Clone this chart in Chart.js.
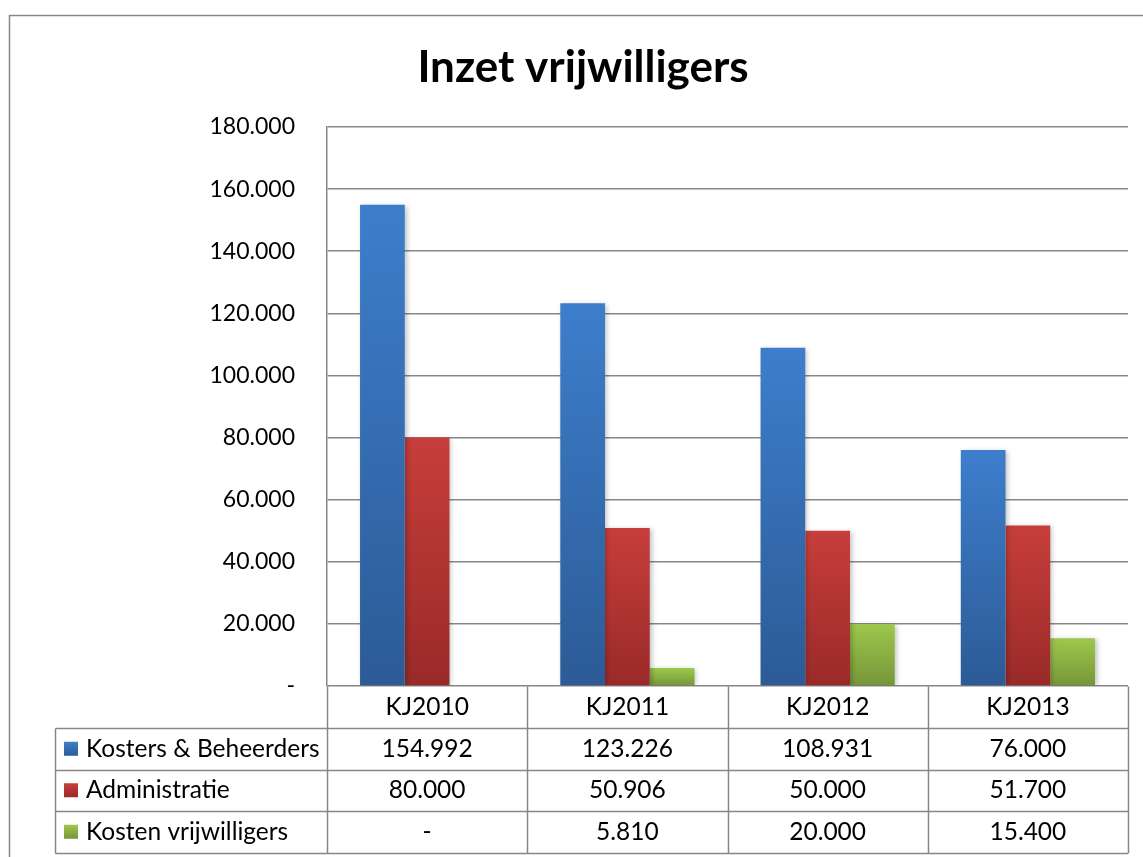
<!DOCTYPE html>
<html lang="nl">
<head>
    <meta charset="UTF-8">
    <title>Inzet vrijwilligers</title>
    <script src="https://cdn.jsdelivr.net/npm/chart.js"></script>
    <style>
        body { margin: 0; background: #fff; }
        #chart { display: block; }
    </style>
</head>
<body>
    <canvas id="chart" width="1143" height="857"></canvas>
    <script>
        // Data from the reference chart
        const categories = ['KJ2010', 'KJ2011', 'KJ2012', 'KJ2013'];
        const seriesNames = ['Kosters & Beheerders', 'Administratie', 'Kosten vrijwilligers'];
        const kosters = [154992, 123226, 108931, 76000];
        const administratie = [80000, 50906, 50000, 51700];
        const kostenVrijwilligers = [0, 5810, 20000, 15400];
        const yTicks = [0, 20000, 40000, 60000, 80000, 100000, 120000, 140000, 160000, 180000];

        const FONT = 'Lato';
        const gridColor = '#878787';
        // top / bottom colours of the bar gradients
        const colors = [
            ['#3d7ecc', '#2c5b96'],
            ['#c73e3b', '#992a28'],
            ['#9dc84c', '#769638']
        ];

        // 154992 -> "154.992", 0 -> "-"
        function fmt(v) {
            if (v === 0) return '-';
            return String(v).replace(/\B(?=(\d{3})+(?!\d))/g, '.');
        }

        function barGradient(idx) {
            return function (context) {
                const chart = context.chart;
                const { ctx, chartArea, scales } = chart;
                if (!chartArea || context.raw === undefined) return colors[idx][1];
                const top = scales.y.getPixelForValue(context.raw);
                const bottom = scales.y.getPixelForValue(0);
                if (bottom - top < 1) return colors[idx][1];
                const g = ctx.createLinearGradient(0, top, 0, bottom);
                g.addColorStop(0, colors[idx][0]);
                g.addColorStop(1, colors[idx][1]);
                return g;
            };
        }

        // Frame, title, bar shadow and the data table under the plot
        const excelPlugin = {
            id: 'excelStyle',
            beforeDraw(chart) {
                const ctx = chart.ctx;
                ctx.save();
                ctx.strokeStyle = '#868686';
                ctx.lineWidth = 1.5;
                ctx.strokeRect(9.5, 15.5, 1200, 900);
                ctx.fillStyle = '#000';
                ctx.font = 'bold 44px ' + FONT;
                ctx.textAlign = 'center';
                ctx.textBaseline = 'middle';
                ctx.fillText('Inzet vrijwilligers', 583, 68);
                ctx.restore();
            },
            beforeDatasetsDraw(chart) {
                const ctx = chart.ctx;
                ctx.save();
                ctx.shadowColor = 'rgba(0,0,0,0.25)';
                ctx.shadowBlur = 5;
                ctx.shadowOffsetX = 2;
                ctx.shadowOffsetY = 1;
            },
            afterDatasetsDraw(chart) {
                chart.ctx.restore();
            },
            afterDraw(chart) {
                const ctx = chart.ctx;
                const x = chart.scales.x;
                const area = chart.chartArea;
                const colW = (area.right - area.left) / categories.length;
                const rowH = 41.5;
                const tableLeft = 55.5;
                const rows = [kosters, administratie, kostenVrijwilligers];
                const top = Math.round(area.bottom) + 0.5;
                const nRows = rows.length + 1;

                ctx.save();
                ctx.strokeStyle = gridColor;
                ctx.lineWidth = 1.5;
                ctx.beginPath();
                // horizontal lines
                for (let r = 1; r <= nRows; r++) {
                    const yy = Math.round(top + r * rowH) + 0.5;
                    ctx.moveTo(tableLeft, yy);
                    ctx.lineTo(area.right, yy);
                }
                // vertical lines
                const bottom = Math.round(top + nRows * rowH) + 0.5;
                ctx.moveTo(tableLeft, Math.round(top + rowH) + 0.5);
                ctx.lineTo(tableLeft, bottom);
                for (let c = 0; c <= categories.length; c++) {
                    const xx = Math.round(area.left + c * colW) + 0.5;
                    ctx.moveTo(xx, top);
                    ctx.lineTo(xx, bottom);
                }
                ctx.stroke();

                ctx.fillStyle = '#000';
                ctx.font = '24.5px ' + FONT;
                ctx.textBaseline = 'middle';
                ctx.textAlign = 'center';
                categories.forEach((cat, i) => {
                    ctx.fillText(cat, x.getPixelForValue(i), top + rowH / 2);
                });
                rows.forEach((vals, r) => {
                    const cy = top + (r + 1.5) * rowH;
                    vals.forEach((v, i) => {
                        ctx.textAlign = 'center';
                        ctx.fillText(fmt(v), x.getPixelForValue(i), cy);
                    });
                    // legend key
                    const g = ctx.createLinearGradient(0, cy - 7, 0, cy + 7);
                    g.addColorStop(0, colors[r][0]);
                    g.addColorStop(1, colors[r][1]);
                    ctx.fillStyle = g;
                    ctx.fillRect(64, cy - 7, 14, 14);
                    ctx.fillStyle = '#000';
                    ctx.textAlign = 'left';
                    ctx.fillText(seriesNames[r], 86, cy);
                });
                ctx.restore();
            }
        };

        const ctx = document.getElementById('chart').getContext('2d');
        const chart = new Chart(ctx, {
            type: 'bar',
            data: {
                labels: categories,
                datasets: [
                    { label: seriesNames[0], data: kosters, backgroundColor: barGradient(0) },
                    { label: seriesNames[1], data: administratie, backgroundColor: barGradient(1) },
                    { label: seriesNames[2], data: kostenVrijwilligers, backgroundColor: barGradient(2) }
                ]
            },
            options: {
                responsive: false,
                animation: false,
                layout: { padding: { left: 0, right: 15, top: 127, bottom: 171 } },
                datasets: {
                    bar: { categoryPercentage: 0.67, barPercentage: 1, borderWidth: 0 }
                },
                plugins: {
                    legend: { display: false },
                    title: { display: false },
                    tooltip: { enabled: false }
                },
                scales: {
                    x: {
                        ticks: { display: false },
                        grid: { display: false, drawTicks: false },
                        border: { display: false },
                        afterFit(scale) { scale.height = 0; }
                    },
                    y: {
                        min: 0,
                        max: 180000,
                        afterBuildTicks(scale) {
                            scale.ticks = yTicks.map(v => ({ value: v }));
                        },
                        afterFit(scale) { scale.width = 327; },
                        ticks: {
                            padding: 32,
                            color: '#000',
                            font: { family: FONT, size: 23 },
                            callback: v => fmt(v)
                        },
                        grid: { color: gridColor, lineWidth: 1.5, drawTicks: false },
                        border: { color: gridColor, width: 1.5 }
                    }
                }
            },
            plugins: [excelPlugin]
        });
    </script>
</body>
</html>
